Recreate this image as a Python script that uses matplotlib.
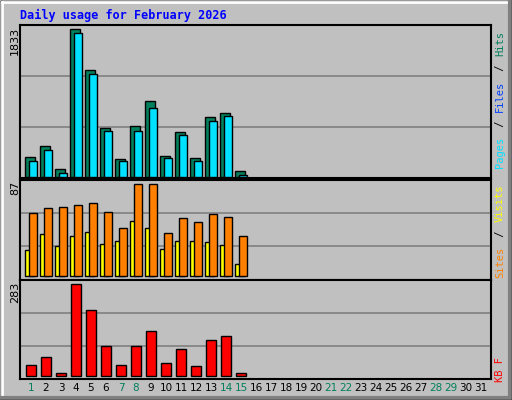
import matplotlib
matplotlib.use("Agg")
import matplotlib.pyplot as plt
from matplotlib.patches import Rectangle
from matplotlib.lines import Line2D

days = list(range(1, 32))
weekend_days = [1, 7, 8, 14, 15, 21, 22, 28, 29]
hits = [244, 384, 95, 1833, 1321, 603, 219, 628, 937, 256, 553, 232, 739, 789, 71]
files = [194, 331, 46, 1780, 1272, 566, 194, 566, 851, 232, 516, 194, 690, 752, 21]
visits = [60, 65, 66, 67, 69, 61, 46, 87, 87, 41, 55, 51, 59, 56, 38]
sites = [25, 40, 29, 38, 42, 31, 33, 52, 46, 26, 33, 33, 32, 30, 12]
kbytes = [32, 57, 7, 283, 202, 91, 32, 91, 137, 38, 82, 29, 110, 122, 7]
title = "Daily usage for February 2026"
max_hits, max_visits, max_kb = 1833, 87, 283

W, H = 512, 400
fig = plt.figure(figsize=(W/100, H/100), dpi=100)
fig.patch.set_facecolor("#C0C0C0")

def fx(px): return px / W
def fy(py): return 1 - py / H

# bevel border
fig.add_artist(Line2D([fx(0.5), fx(511.5)], [fy(0.5), fy(0.5)], color="black", lw=1))
fig.add_artist(Line2D([fx(0.5), fx(0.5)], [fy(0.5), fy(399.5)], color="black", lw=1))
fig.add_artist(Line2D([fx(1.5), fx(509)], [fy(1.5), fy(1.5)], color="white", lw=2))
fig.add_artist(Line2D([fx(1.5), fx(1.5)], [fy(1.5), fy(397)], color="white", lw=2))
fig.add_artist(Line2D([fx(2), fx(510)], [fy(397.5), fy(397.5)], color="#808080", lw=3))
fig.add_artist(Line2D([fx(509.5), fx(509.5)], [fy(2), fy(398)], color="#808080", lw=3))
fig.add_artist(Line2D([fx(0), fx(512)], [fy(399.5), fy(399.5)], color="black", lw=1))
fig.add_artist(Line2D([fx(511.5), fx(511.5)], [fy(0), fy(400)], color="black", lw=1))

fig.text(fx(20), fy(15), title, color="#0000FF", family="DejaVu Sans Mono",
         weight="bold", fontsize=8.5, va="center", ha="left")

x0 = 0.267
xr = x0 + 471 / 15.0

def make_ax(top, bot, base, topv_px, vmax, grid_vals):
    ax = fig.add_axes([fx(20), fy(bot), fx(491) - fx(20), (bot - top) / H])
    ax.set_facecolor("#C0C0C0")
    ppu = (base - topv_px) / vmax
    ax.set_ylim(-(bot - base) / ppu, (base - top) / ppu)
    ax.set_xlim(x0, xr)
    for g in grid_vals:
        ax.axhline(g, color="#808080", lw=1.2, zorder=1)
    ax.set_xticks([]); ax.set_yticks([])
    for s in ax.spines.values():
        s.set_color("black"); s.set_linewidth(1.5)
    return ax

ax1 = make_ax(25, 178, 177, 29, max_hits, [615, 1247])
ax2 = make_ax(179.5, 279.5, 276.3, 184.3, max_visits, [28.4, 59.6])
ax3 = make_ax(279.5, 378.5, 375.7, 284.3, max_kb, [92, 193])

d = days[:len(hits)]
ax1.bar([i - 0.37 for i in d], hits, width=0.62, align="edge", color="#00805C", edgecolor="black", lw=1, zorder=2)
ax1.bar([i - 0.1 for i in d], files, width=0.5, align="edge", color="#00E0FF", edgecolor="black", lw=1, zorder=3)
ax2.bar([i - 0.37 for i in d], sites, width=0.6, align="edge", color="#FFFF00", edgecolor="black", lw=1, zorder=2)
ax2.bar([i - 0.1 for i in d], visits, width=0.5, align="edge", color="#FF8000", edgecolor="black", lw=1, zorder=3)
ax3.bar([i - 0.3 for i in d], kbytes, width=0.66, align="edge", color="#FF0000", edgecolor="black", lw=1, zorder=2)

for val, py in [(max_hits, 27), (max_visits, 181), (max_kb, 282)]:
    fig.text(fx(15), fy(py), str(val), rotation=90, ha="center", va="top",
             fontsize=8, color="black")

for i in days:
    px = 20 + (i - x0) * 15
    fig.text(fx(px), fy(388), str(i), ha="center", va="center", fontsize=7.5,
             color="#00805C" if i in weekend_days else "black")

def rlabel(parts, py, va):
    # parts listed bottom->top
    n = sum(len(t) for t, _ in parts)
    ch = 7.0
    total = n * ch
    start = py + total if va == "top" else py
    cur = start
    for t, c in parts:
        fig.text(fx(500), fy(cur), t, rotation=90, ha="center", va="bottom",
                 family="DejaVu Sans Mono", fontsize=7.5, color=c)
        cur -= len(t) * ch

rlabel([("Pages", "#00E0FF"), (" / ", "#000000"), ("Files", "#0040FF"),
        (" / ", "#000000"), ("Hits", "#00805C")], 28, "top")
rlabel([("Sites", "#FF8000"), (" / ", "#000000"), ("Visits", "#FFFF00")], 180, "top")
rlabel([("KB F", "#FF0000")], 382, "bottom")

fig.savefig("out.png", dpi=100, facecolor=fig.get_facecolor())
